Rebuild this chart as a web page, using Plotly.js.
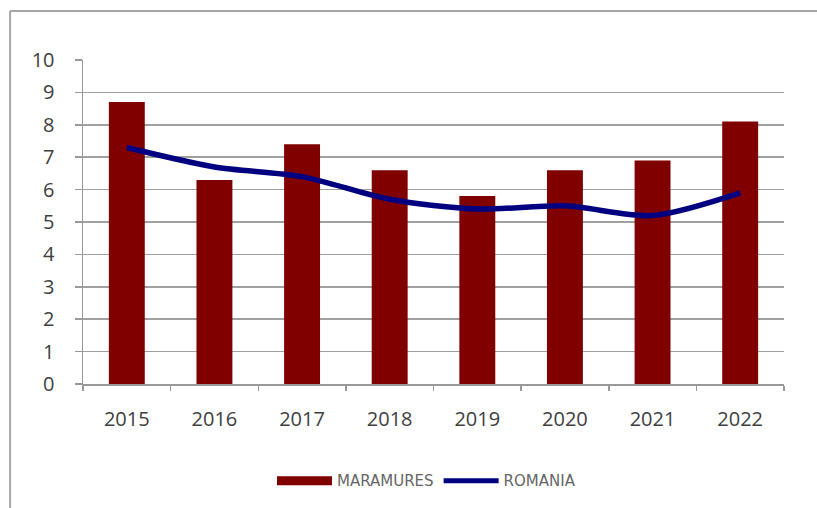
<!DOCTYPE html>
<html>
<head>
<meta charset="utf-8">
<script src="https://cdn.plot.ly/plotly-3.0.1.min.js"></script>
<style>html,body{margin:0;padding:0;background:#fff;}#chart{width:817px;height:508px;}</style>
</head>
<body>
<div id="chart"></div>
<script>
var years = ['2015','2016','2017','2018','2019','2020','2021','2022'];
var maramures = [8.7, 6.3, 7.4, 6.6, 5.8, 6.6, 6.9, 8.1];
var romania = [7.3, 6.7, 6.4, 5.7, 5.4, 5.5, 5.2, 5.9];
var yTicks = [0,1,2,3,4,5,6,7,8,9,10];

var traces = [
  {type:'bar', x: years, y: maramures, name:'MARAMURES', marker:{color:'#800000'}, showlegend:false},
  {type:'scatter', mode:'lines', x: years, y: romania, name:'ROMANIA', line:{color:'#000080', width:5.5, shape:'spline', smoothing:0.8}, showlegend:false},
  {type:'scatter', mode:'lines', x:[null], y:[null], name:'MARAMURES', line:{color:'#800000', width:9}, hoverinfo:'skip'},
  {type:'scatter', mode:'lines', x:[null], y:[null], name:'ROMANIA', line:{color:'#000080', width:5}, hoverinfo:'skip'}
];

var layout = {
  width: 817, height: 508,
  margin: {l:83, r:33, t:60, b:123},
  paper_bgcolor:'#fff', plot_bgcolor:'#fff',
  bargap: 0.59,
  font: {family:'Open Sans, sans-serif', color:'#404040'},
  xaxis: {
    type:'category', range:[-0.5, 7.5], tickson:'boundaries',
    ticks:'outside', ticklen:5, tickcolor:'#999', tickwidth:1.5,
    showline:true, linecolor:'#999', linewidth:1.5,
    showgrid:false, tickfont:{size:20, color:'#404040'}, ticklabelstandoff:16,
    fixedrange:true
  },
  yaxis: {
    range:[0,10], tickvals: yTicks, ticktext: yTicks.map(String),
    ticks:'outside', ticklen:7, tickcolor:'#999', tickwidth:1.5,
    showline:true, linecolor:'#999', linewidth:1.5,
    showgrid:true, gridcolor:'#a0a0a0', gridwidth:1.5,
    zeroline:false, tickfont:{size:20, color:'#404040'}, ticklabelstandoff:16,
    fixedrange:true
  },
  legend: {
    orientation:'h', x:0.49, xanchor:'center', y:-0.295, yanchor:'middle',
    font:{size:15, color:'#666666', family:'DejaVu Sans, sans-serif'},
    itemwidth:55, traceorder:'normal'
  },
  shapes: [
    {type:'line', xref:'paper', yref:'paper', x0:-0.104, x1:-0.104, y0:-0.4, y1:1.151, line:{color:'#a6a6a6', width:2}},
    {type:'line', xref:'paper', yref:'paper', x0:-0.104, x1:1.1, y0:1.151, y1:1.151, line:{color:'#a6a6a6', width:2}}
  ],
  showlegend:true
};

Plotly.newPlot('chart', traces, layout, {displayModeBar:false, staticPlot:true});
</script>
</body>
</html>
